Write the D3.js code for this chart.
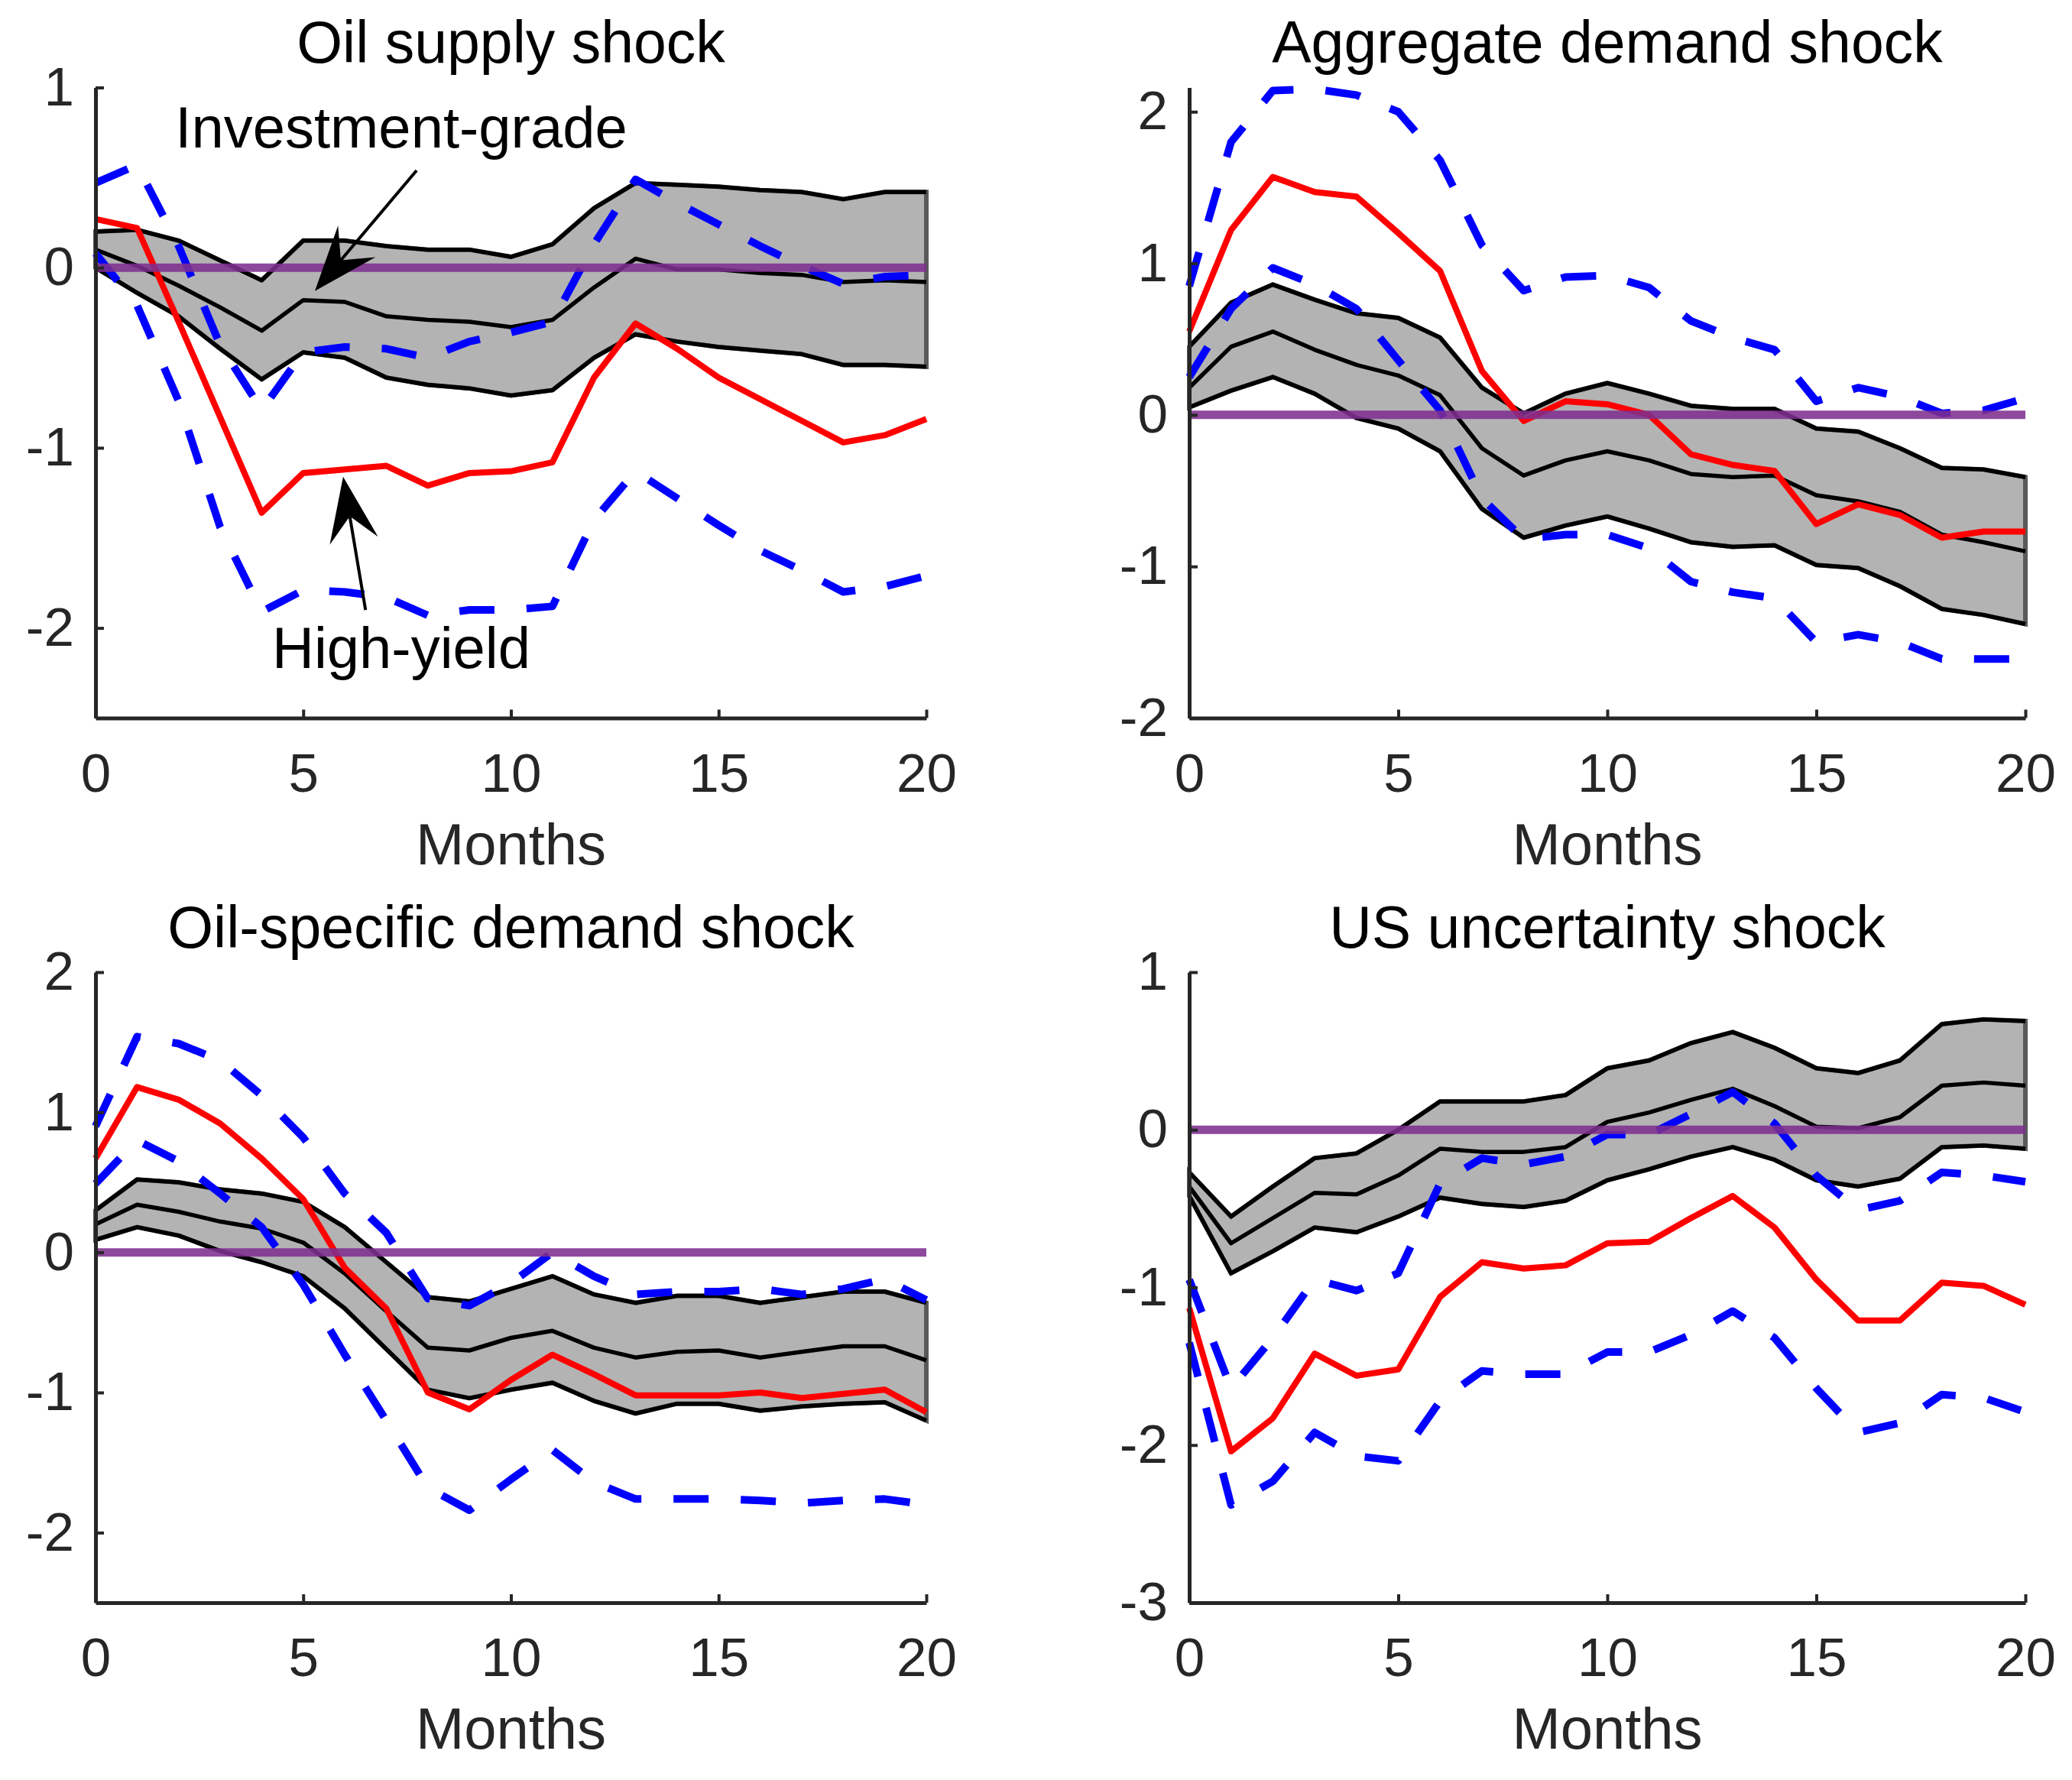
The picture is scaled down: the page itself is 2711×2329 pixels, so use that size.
<!DOCTYPE html>
<html>
<head>
<meta charset="utf-8">
<script src="https://cdn.jsdelivr.net/npm/d3@7/dist/d3.min.js"></script>
<style>
html,body{margin:0;padding:0;background:#fff;}
svg{display:block;}
text{font-family:"Liberation Sans",Arial,Helvetica,sans-serif;}
</style>
</head>
<body>
<script>
// ---------- data ----------
const months = d3.range(0, 21);
const xTicks = [0, 5, 10, 15, 20];

const titles = ["Oil supply shock", "Aggregate demand shock", "Oil-specific demand shock", "US uncertainty shock"];
const xLabel = "Months";

// Oil supply shock
const osHY   = [0.27,0.22,-0.30,-0.83,-1.36,-1.14,-1.12,-1.10,-1.21,-1.14,-1.13,-1.08,-0.61,-0.31,-0.45,-0.61,-0.73,-0.85,-0.97,-0.93,-0.84];
const osHYup = [0.47,0.57,0.12,-0.43,-0.79,-0.47,-0.44,-0.45,-0.50,-0.41,-0.36,-0.30,0.13,0.49,0.36,0.24,0.12,0.01,-0.09,-0.05,-0.04];
const osHYlo = [0.08,-0.21,-0.74,-1.44,-1.91,-1.79,-1.80,-1.83,-1.93,-1.90,-1.90,-1.88,-1.40,-1.13,-1.28,-1.43,-1.57,-1.68,-1.80,-1.77,-1.71];
const osIGup = [0.20,0.21,0.15,0.04,-0.07,0.15,0.15,0.12,0.10,0.10,0.06,0.13,0.33,0.47,0.46,0.45,0.43,0.42,0.38,0.42,0.42];
const osIG   = [0.10,0.01,-0.10,-0.22,-0.35,-0.18,-0.19,-0.27,-0.29,-0.30,-0.33,-0.29,-0.11,0.05,-0.01,-0.01,-0.03,-0.04,-0.08,-0.07,-0.08];
const osIGlo = [0.00,-0.14,-0.27,-0.45,-0.62,-0.47,-0.50,-0.61,-0.65,-0.67,-0.71,-0.68,-0.50,-0.37,-0.41,-0.44,-0.46,-0.48,-0.54,-0.54,-0.55];
const osYTicks = [-2, -1, 0, 1];
const osYDomain = [-2.5, 1];

// Aggregate demand shock
const adHY   = [0.55,1.22,1.57,1.47,1.44,1.20,0.95,0.29,-0.04,0.09,0.07,0.00,-0.26,-0.33,-0.37,-0.72,-0.59,-0.66,-0.81,-0.77,-0.77];
const adHYup = [0.85,1.80,2.14,2.15,2.11,2.00,1.68,1.12,0.82,0.91,0.92,0.84,0.62,0.51,0.43,0.09,0.18,0.12,0.01,0.03,0.11];
const adHYlo = [0.25,0.70,0.97,0.86,0.70,0.36,0.03,-0.55,-0.82,-0.79,-0.79,-0.88,-1.10,-1.17,-1.21,-1.50,-1.45,-1.50,-1.61,-1.61,-1.61];
const adIGup = [0.45,0.74,0.86,0.76,0.67,0.64,0.51,0.18,0.01,0.14,0.21,0.14,0.06,0.04,0.04,-0.09,-0.11,-0.22,-0.35,-0.36,-0.41];
const adIG   = [0.18,0.45,0.55,0.43,0.33,0.26,0.13,-0.22,-0.40,-0.30,-0.24,-0.30,-0.39,-0.41,-0.40,-0.53,-0.57,-0.64,-0.79,-0.84,-0.90];
const adIGlo = [0.05,0.16,0.25,0.14,-0.02,-0.09,-0.24,-0.62,-0.81,-0.73,-0.67,-0.75,-0.84,-0.87,-0.86,-0.99,-1.01,-1.13,-1.28,-1.32,-1.38];
const adYTicks = [-2, -1, 0, 1, 2];
const adYDomain = [-2, 2.16];

// Oil-specific demand shock
const odHY   = [0.67,1.18,1.09,0.92,0.67,0.38,-0.11,-0.40,-1.00,-1.12,-0.91,-0.73,-0.87,-1.02,-1.02,-1.02,-1.00,-1.04,-1.01,-0.98,-1.14];
const odHYup = [0.90,1.54,1.49,1.37,1.12,0.82,0.42,0.14,-0.33,-0.38,-0.22,0.00,-0.17,-0.30,-0.28,-0.28,-0.26,-0.30,-0.26,-0.19,-0.34];
const odHYlo = [0.49,0.80,0.65,0.42,0.18,-0.23,-0.73,-1.20,-1.68,-1.84,-1.62,-1.41,-1.64,-1.76,-1.76,-1.76,-1.77,-1.79,-1.77,-1.76,-1.80];
const odIGup = [0.30,0.52,0.50,0.45,0.42,0.36,0.18,-0.07,-0.32,-0.35,-0.26,-0.17,-0.30,-0.36,-0.31,-0.31,-0.36,-0.32,-0.28,-0.28,-0.36];
const odIG   = [0.20,0.34,0.29,0.22,0.17,0.07,-0.15,-0.42,-0.68,-0.70,-0.61,-0.56,-0.68,-0.75,-0.71,-0.70,-0.75,-0.71,-0.67,-0.67,-0.77];
const odIGlo = [0.09,0.18,0.12,0.01,-0.07,-0.17,-0.40,-0.69,-0.98,-1.04,-0.98,-0.93,-1.06,-1.15,-1.08,-1.08,-1.13,-1.10,-1.08,-1.07,-1.20];
const odYTicks = [-2, -1, 0, 1, 2];
const odYDomain = [-2.5, 2];

// US uncertainty shock
const usHY   = [-1.13,-2.04,-1.83,-1.42,-1.56,-1.52,-1.06,-0.84,-0.88,-0.86,-0.72,-0.71,-0.56,-0.42,-0.62,-0.95,-1.21,-1.21,-0.97,-0.99,-1.11];
const usHYup = [-0.95,-1.64,-1.32,-0.95,-1.02,-0.91,-0.34,-0.18,-0.22,-0.17,-0.03,-0.03,0.10,0.24,0.04,-0.29,-0.51,-0.45,-0.27,-0.29,-0.33];
const usHYlo = [-1.35,-2.38,-2.23,-1.92,-2.07,-2.10,-1.72,-1.53,-1.55,-1.55,-1.41,-1.41,-1.30,-1.15,-1.32,-1.64,-1.92,-1.86,-1.68,-1.70,-1.79];
const usIGup = [-0.27,-0.55,-0.36,-0.18,-0.15,0.00,0.18,0.18,0.18,0.22,0.39,0.44,0.55,0.62,0.52,0.39,0.36,0.44,0.67,0.70,0.69];
const usIG   = [-0.36,-0.72,-0.56,-0.40,-0.41,-0.29,-0.12,-0.14,-0.14,-0.11,0.05,0.11,0.19,0.26,0.15,0.02,0.01,0.08,0.28,0.30,0.28];
const usIGlo = [-0.42,-0.91,-0.77,-0.62,-0.65,-0.55,-0.43,-0.47,-0.49,-0.45,-0.32,-0.25,-0.17,-0.11,-0.19,-0.32,-0.36,-0.31,-0.11,-0.10,-0.12];
const usYTicks = [-3, -2, -1, 0, 1];
const usYDomain = [-3, 1];

// annotations in panel 1 (data coordinates: month, value)
const annoLabels = ["Investment-grade", "High-yield"];
const annoTextPos = [[7.36, 0.665], [7.36, -2.22]];
const annoArrowTail = [[7.73, 0.54], [6.50, -1.90]];
const annoArrowTip  = [[5.28, -0.13], [5.96, -1.16]];

// ---------- layout ----------
const W = 2711, H = 2329;
const colX = [[125, 1212], [1556, 2650]];
const rowY = [[114.5, 939.5], [1272, 2097]];

const panels = [
  {title: titles[0], hy: osHY, hyUp: osHYup, hyLo: osHYlo, igUp: osIGup, ig: osIG, igLo: osIGlo, yTicks: osYTicks, yDomain: osYDomain, c: 0, r: 0, anno: true},
  {title: titles[1], hy: adHY, hyUp: adHYup, hyLo: adHYlo, igUp: adIGup, ig: adIG, igLo: adIGlo, yTicks: adYTicks, yDomain: adYDomain, c: 1, r: 0},
  {title: titles[2], hy: odHY, hyUp: odHYup, hyLo: odHYlo, igUp: odIGup, ig: odIG, igLo: odIGlo, yTicks: odYTicks, yDomain: odYDomain, c: 0, r: 1},
  {title: titles[3], hy: usHY, hyUp: usHYup, hyLo: usHYlo, igUp: usIGup, ig: usIG, igLo: usIGlo, yTicks: usYTicks, yDomain: usYDomain, c: 1, r: 1}
];

const svg = d3.select("body").append("svg")
  .attr("width", W).attr("height", H)
  .attr("viewBox", `0 0 ${W} ${H}`);
svg.append("rect").attr("width", W).attr("height", H).attr("fill", "#fff");

const axisColor = "#262626";

panels.forEach(p => {
  const [x0, x1] = colX[p.c];
  const [y0, y1] = rowY[p.r];
  const x = d3.scaleLinear().domain([0, 20]).range([x0, x1]);
  const y = d3.scaleLinear().domain(p.yDomain).range([y1, y0]);
  const g = svg.append("g");

  const line = arr => d3.line().x((d, i) => x(months[i])).y(d => y(d))(arr);

  // band
  const area = d3.area().x((d, i) => x(months[i])).y0((d, i) => y(p.igLo[i])).y1(d => y(d));
  g.append("path").attr("d", area(p.igUp))
    .attr("fill", "#b3b3b3").attr("stroke", "#5a5a5a").attr("stroke-width", 6);

  // investment grade lines
  [p.igUp, p.ig, p.igLo].forEach(arr => {
    g.append("path").attr("d", line(arr)).attr("fill", "none")
      .attr("stroke", "#000").attr("stroke-width", 5.5).attr("stroke-linejoin", "round");
  });

  // high-yield bands
  [p.hyUp, p.hyLo].forEach(arr => {
    g.append("path").attr("d", line(arr)).attr("fill", "none")
      .attr("stroke", "#0000ff").attr("stroke-width", 10)
      .attr("stroke-dasharray", "46,42").attr("stroke-linejoin", "round");
  });

  // high-yield median
  g.append("path").attr("d", line(p.hy)).attr("fill", "none")
    .attr("stroke", "#ff0000").attr("stroke-width", 8).attr("stroke-linejoin", "round");

  // zero line
  g.append("path").attr("d", d3.line().x(d => x(d)).y(() => y(0))([0, 20]))
    .attr("fill", "none").attr("stroke", "#7e2f8e").attr("stroke-width", 11).attr("stroke-opacity", 0.88);

  // axes
  const xa = g.append("g").attr("transform", `translate(0,${y1})`)
    .call(d3.axisBottom(x).tickValues(xTicks).tickFormat(d => String(d)).tickSizeInner(-11).tickSizeOuter(0).tickPadding(46));
  const ya = g.append("g").attr("transform", `translate(${x0},0)`)
    .call(d3.axisLeft(y).tickValues(p.yTicks).tickFormat(d => String(d)).tickSizeInner(-11).tickSizeOuter(0).tickPadding(28));
  [xa, ya].forEach(a => {
    a.select(".domain").attr("stroke", axisColor).attr("stroke-width", 5);
    a.selectAll(".tick line").attr("stroke", axisColor).attr("stroke-width", 4);
    a.selectAll(".tick text").attr("fill", axisColor).style("font-size", "71px")
      .style("font-family", '"Liberation Sans",Arial,sans-serif');
  });

  // title and x label
  g.append("text").attr("x", (x0 + x1) / 2).attr("y", y0 - 60).attr("dy", "0.36em")
    .attr("text-anchor", "middle").attr("fill", "#000").style("font-size", "77px").text(p.title);
  g.append("text").attr("x", (x0 + x1) / 2).attr("y", y1 + 164).attr("dy", "0.36em")
    .attr("text-anchor", "middle").attr("fill", axisColor).style("font-size", "76px").text(xLabel);

  if (p.anno) {
    annoLabels.forEach((lab, i) => {
      const [tx, ty] = annoTextPos[i];
      g.append("text").attr("x", x(tx)).attr("y", y(ty)).attr("text-anchor", "middle")
        .attr("fill", "#000").style("font-size", "76px").text(lab);
      const ax0 = x(annoArrowTail[i][0]), ay0 = y(annoArrowTail[i][1]);
      const ax1 = x(annoArrowTip[i][0]),  ay1 = y(annoArrowTip[i][1]);
      const dx = ax1 - ax0, dy = ay1 - ay0, len = Math.hypot(dx, dy);
      const ux = dx / len, uy = dy / len, nx = -uy, ny = ux;
      const L = 85, Wd = 32, notch = 0.62;
      g.append("path").attr("d", d3.line()([[ax0, ay0], [ax1 - ux * L * notch, ay1 - uy * L * notch]]))
        .attr("stroke", "#000").attr("stroke-width", 4).attr("fill", "none");
      const head = [
        [ax1, ay1],
        [ax1 - ux * L + nx * Wd, ay1 - uy * L + ny * Wd],
        [ax1 - ux * L * notch, ay1 - uy * L * notch],
        [ax1 - ux * L - nx * Wd, ay1 - uy * L - ny * Wd]
      ];
      g.append("path").attr("d", d3.line()(head) + "Z").attr("fill", "#000").attr("stroke", "none");
    });
  }
});
</script>
</body>
</html>
